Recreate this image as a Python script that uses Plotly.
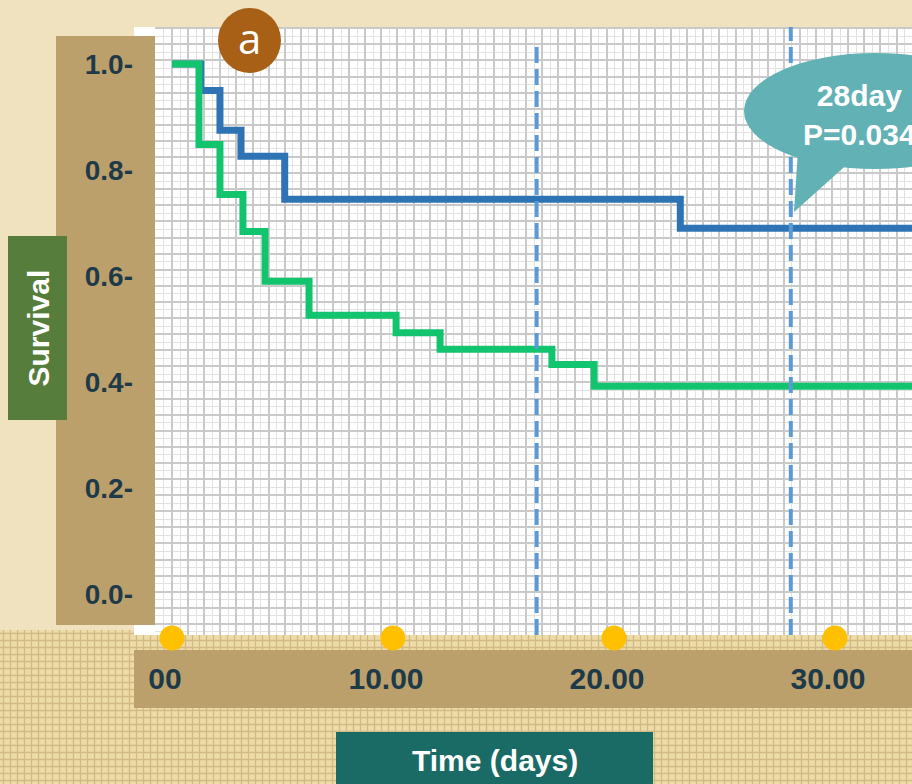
import plotly.graph_objects as go

W, H = 912, 784

# Kaplan-Meier curves: event times (days) and survival after each step
blue_days = [0, 1.3, 2.17, 3.12, 5.1, 23.0, 34]
blue_surv = [1.0, 0.95, 0.875, 0.826, 0.745, 0.69, 0.69]
green_days = [0, 1.22, 2.17, 3.21, 4.21, 6.2, 10.14, 12.13, 17.19, 19.1, 34]
green_surv = [1.0, 0.848, 0.754, 0.684, 0.59, 0.526, 0.493, 0.462, 0.433, 0.392, 0.392]

# reference time points (dashed guides) and how high each guide reaches
ref_days = [16.5, 28]
ref_tops = [1.042, 1.08]

x_ticks = [0, 10, 20, 30]
x_ticktext = ["00", "10.00", "20.00", "30.00"]
y_ticks = [0, 0.2, 0.4, 0.6, 0.8, 1.0]
y_ticktext = ["0.0-", "0.2-", "0.4-", "0.6-", "0.8-", "1.0-"]
marker_days = [0, 10, 20, 30]
callout_text = "28day<br>P=0.034"

# ---- colours ----
PARCHMENT = "#F1E2BF"
TAN = "#BCA06C"
LABEL = "#1E3A48"
BLUE = "#2E74B5"
GREEN = "#13C46E"
GUIDE = "#5B9BD5"
GOLD = "#FFC000"
TEAL_BUBBLE = "#62B1B5"
FONT = "Liberation Sans"

# ---- page geometry (pixels, origin top-left) ----
PLOT_L, PLOT_R, PLOT_T, PLOT_B = 134, 912, 27, 635
DATA_B = 652          # data axes reach a little below the paper so markers can sit on the edge
GRID_L = 155
PX_PER_DAY = 22.1
DAY0_PX = 172
SURV0_PX, PX_PER_UNIT = 594, 530
MARKER_PX = 638


def px_x(px):
    return px / W


def px_y(py):
    return 1 - py / H


x_lo = (PLOT_L - DAY0_PX) / PX_PER_DAY
x_hi = (PLOT_R - DAY0_PX) / PX_PER_DAY
paper_bottom = (SURV0_PX - PLOT_B) / PX_PER_UNIT
y_lo = (SURV0_PX - DATA_B) / PX_PER_UNIT
y_hi = (SURV0_PX - PLOT_T) / PX_PER_UNIT
marker_level = (SURV0_PX - MARKER_PX) / PX_PER_UNIT

fig = go.Figure()


def panel(x0, x1, y0, y1, color, pattern=None):
    """Filled rectangle on the page-pixel axes."""
    kw = dict(
        x=[x0, x1, x1, x0, x0], y=[y0, y0, y1, y1, y0],
        mode="lines", fill="toself", fillcolor=color,
        line=dict(width=0), hoverinfo="skip", showlegend=False,
        xaxis="x", yaxis="y",
    )
    if pattern:
        kw["fillpattern"] = pattern
    fig.add_trace(go.Scatter(**kw))


# backdrop pieces
panel(0, W, 630, H, "#E6D29C",
      pattern=dict(shape="+", bgcolor="#EEDCA8", fgcolor="#B4975E",
                   size=7, solidity=0.35))
panel(PLOT_L, PLOT_R, PLOT_T, PLOT_B, "white")
panel(56, GRID_L, 36, 625, TAN)
panel(PLOT_L, PLOT_R, 650, 708, TAN)

# graph-paper layer
fig.add_trace(go.Scatter(x=[], y=[], xaxis="x2", yaxis="y2",
                         showlegend=False, hoverinfo="skip"))

# survival curves
fig.add_trace(go.Scatter(
    x=blue_days, y=blue_surv, mode="lines", line=dict(color=BLUE, width=7, shape="hv"),
    xaxis="x3", yaxis="y3", showlegend=False, hoverinfo="skip"))
fig.add_trace(go.Scatter(
    x=green_days, y=green_surv, mode="lines", line=dict(color=GREEN, width=7, shape="hv"),
    xaxis="x3", yaxis="y3", showlegend=False, hoverinfo="skip"))

# dashed reference guides
for d, top in zip(ref_days, ref_tops):
    fig.add_trace(go.Scatter(
        x=[d, d], y=[paper_bottom, top], mode="lines",
        line=dict(color=GUIDE, width=4, dash="16px,6px"),
        xaxis="x3", yaxis="y3", showlegend=False, hoverinfo="skip"))

# gold markers on the lower edge of the paper
fig.add_trace(go.Scatter(
    x=marker_days, y=[marker_level] * len(marker_days), mode="markers",
    marker=dict(color=GOLD, size=25, line=dict(width=0)),
    cliponaxis=False, xaxis="x3", yaxis="y3", showlegend=False, hoverinfo="skip"))

hidden = dict(visible=False, fixedrange=True)
grid_major = dict(showgrid=True, gridcolor="#C9C9C9", gridwidth=2)
grid_minor = dict(showgrid=True, gridcolor="#E2E2E2", gridwidth=1)
fig.update_layout(
    width=W, height=H,
    margin=dict(l=0, r=0, t=0, b=0),
    paper_bgcolor=PARCHMENT,
    plot_bgcolor="rgba(0,0,0,0)",
    xaxis=dict(domain=[0, 1], range=[0, W], **hidden),
    yaxis=dict(domain=[0, 1], range=[H, 0], **hidden),
    xaxis2=dict(
        domain=[px_x(GRID_L), 1], range=[GRID_L, PLOT_R], anchor="y2",
        tick0=DAY0_PX, dtick=16.1, showticklabels=False, ticks="",
        zeroline=False, showline=False, fixedrange=True,
        minor=dict(tick0=DAY0_PX, dtick=8.05, **grid_minor),
        **grid_major,
    ),
    yaxis2=dict(
        domain=[px_y(PLOT_B), px_y(PLOT_T)], range=[PLOT_B, PLOT_T], anchor="x2",
        tick0=479, dtick=16.1, showticklabels=False, ticks="",
        zeroline=False, showline=False, fixedrange=True,
        minor=dict(tick0=479, dtick=8.05, **grid_minor),
        **grid_major,
    ),
    xaxis3=dict(
        domain=[px_x(PLOT_L), 1], range=[x_lo, x_hi], anchor="y3",
        showgrid=False, zeroline=False, showline=False, ticks="",
        tickmode="array", tickvals=x_ticks, ticktext=x_ticktext,
        tickfont=dict(family=FONT, size=30, color=LABEL, weight="bold"),
        ticklabelstandoff=6, ticklabelshift=-7, fixedrange=True,
    ),
    yaxis3=dict(
        domain=[px_y(DATA_B), px_y(PLOT_T)], range=[y_lo, y_hi], anchor="x3",
        showgrid=False, zeroline=False, showline=False, ticks="",
        tickmode="array", tickvals=y_ticks, ticktext=y_ticktext,
        tickfont=dict(family=FONT, size=28, color=LABEL, weight="bold"),
        fixedrange=True,
    ),
)

# label boxes, badge and callout bubble
shapes = [
    dict(type="rect", x0=px_x(8), x1=px_x(67), y0=px_y(420), y1=px_y(236),
         fillcolor="#567D3B", line=dict(width=0)),
    dict(type="rect", x0=px_x(336), x1=px_x(653), y0=px_y(H), y1=px_y(732),
         fillcolor="#1A6A65", line=dict(width=0)),
    dict(type="circle", x0=px_x(218), x1=px_x(281), y0=px_y(73), y1=px_y(8),
         fillcolor="#A85F16", line=dict(width=0)),
    dict(type="circle", x0=px_x(744), x1=px_x(1006), y0=px_y(169), y1=px_y(53),
         fillcolor=TEAL_BUBBLE, line=dict(width=0)),
    dict(type="path",
         path=f"M {px_x(798)} {px_y(150)} L {px_x(794)} {px_y(212)} "
              f"L {px_x(852)} {px_y(160)} Z",
         fillcolor=TEAL_BUBBLE, line=dict(width=0)),
]
for s in shapes:
    s.update(xref="paper", yref="paper", layer="above")
fig.update_layout(shapes=shapes)

white_bold = dict(family=FONT, size=30, color="white", weight="bold")
fig.update_layout(annotations=[
    dict(text="Survival", x=px_x(37.5), y=px_y(328), textangle=-90,
         font=white_bold),
    dict(text="Time (days)", x=px_x(494.5), y=px_y(760), font=white_bold),
    dict(text="a", x=px_x(249.5), y=px_y(38),
         font=dict(family="Open Sans", size=42, color="white")),
    dict(text=callout_text, x=px_x(859), y=px_y(115), font=white_bold,
         align="center"),
])
for a in fig.layout.annotations:
    a.update(xref="paper", yref="paper", showarrow=False,
             xanchor="center", yanchor="middle")

fig.write_html("out.html")
